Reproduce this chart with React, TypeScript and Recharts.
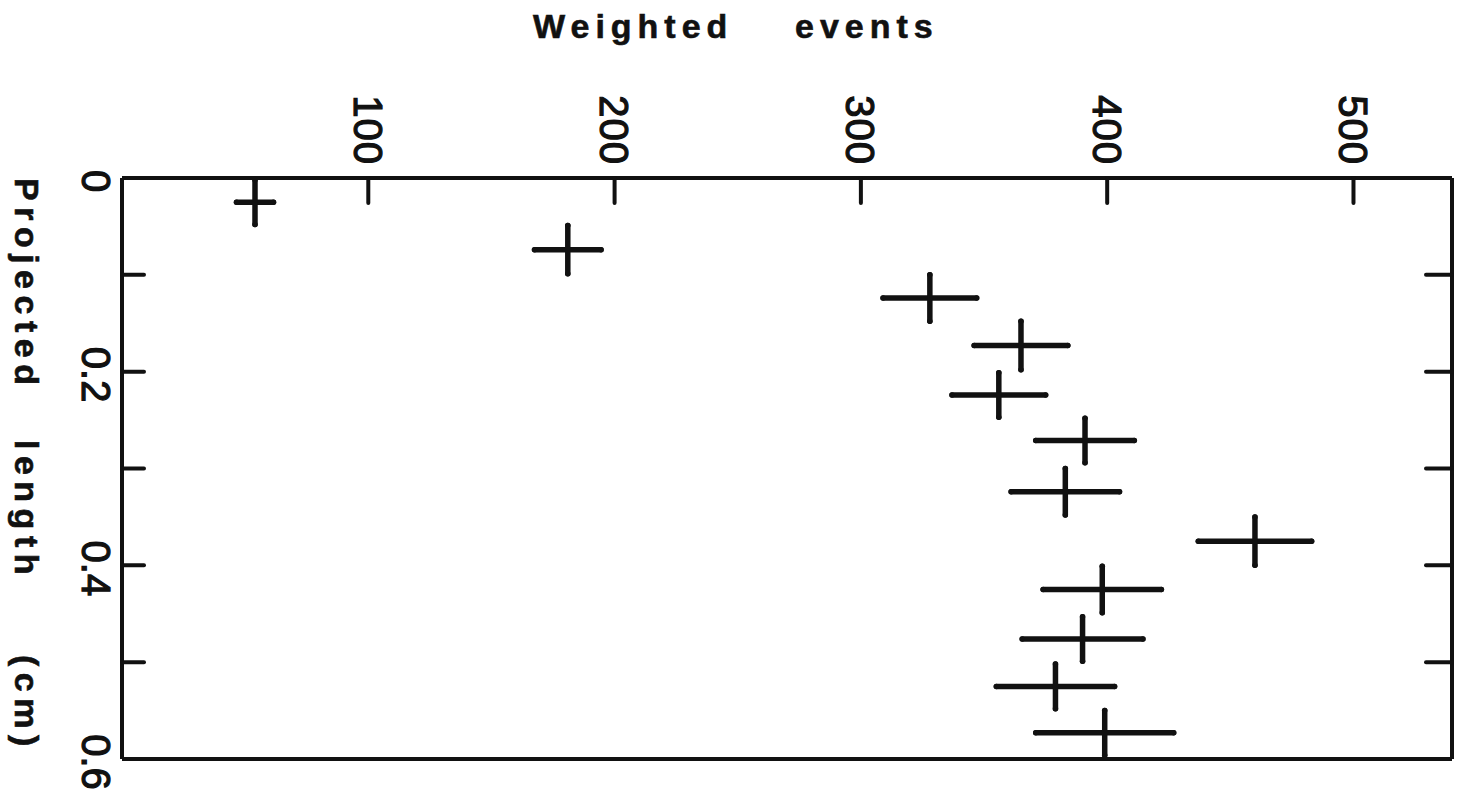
import React from 'react';
import { ScatterChart, Scatter, XAxis, YAxis, ErrorBar } from 'recharts';

// Projected length bin centres (cm)
const lengths = [0.025, 0.074, 0.124, 0.173, 0.224, 0.271, 0.324, 0.375, 0.425, 0.476, 0.525, 0.573];
// Weighted events per bin
const events = [54, 181, 328, 365, 356, 391, 383, 460, 398, 390, 379, 399];
// Statistical errors on weighted events
const eventErrors = [7.5, 13.5, 19, 19, 19, 20, 22, 23, 24, 24.5, 24, 28];
// Half bin width in projected length
const lengthErrors = [0.023, 0.025, 0.024, 0.025, 0.023, 0.023, 0.024, 0.025, 0.024, 0.023, 0.023, 0.023];

const xTicks = [100, 200, 300, 400, 500];
const yTicks = [0, 0.1, 0.2, 0.3, 0.4, 0.5, 0.6];
const yLabelTicks = [0, 0.2, 0.4, 0.6];

const data = lengths.map((l, i) => ({
  length: l,
  events: events[i],
  ex: eventErrors[i],
  ey: lengthErrors[i],
}));

const INK = '#111';
const FONT = '"Liberation Sans", Arial, sans-serif';

const TopTick = (props: any) => {
  const { x, y, payload } = props;
  return (
    <g>
      <line x1={x} y1={y} x2={x} y2={y + 25} stroke={INK} strokeWidth={4} strokeLinecap="round" />
      <text
        transform={`translate(${x},${y - 13}) rotate(90)`}
        textAnchor="end"
        dy="0.36em"
        fontFamily={FONT}
        fontSize={40}
        letterSpacing={1}
        fill={INK}
        stroke={INK}
        strokeWidth={1.2}
      >
        {payload.value}
      </text>
    </g>
  );
};

const BottomTick = (props: any) => {
  const { x, y } = props;
  return <line x1={x} y1={y} x2={x} y2={y - 25} stroke={INK} strokeWidth={4} strokeLinecap="round" />;
};

const LeftTick = (props: any) => {
  const { x, y, payload } = props;
  const v = payload.value;
  const isEnd = Math.abs(v) < 1e-9 || Math.abs(v - 0.6) < 1e-9;
  const showLabel = yLabelTicks.some((t) => Math.abs(t - v) < 1e-9);
  const label = Math.abs(v) < 1e-9 ? '0' : v.toFixed(1);
  return (
    <g>
      {!isEnd && (
        <line x1={x} y1={y} x2={x + 22} y2={y} stroke={INK} strokeWidth={4} strokeLinecap="round" />
      )}
      {showLabel && (
        <text
          transform={`translate(${x - 26},${y + 3}) rotate(90)`}
          textAnchor="middle"
          dy="0.36em"
          fontFamily={FONT}
          fontSize={40}
          fill={INK}
          stroke={INK}
          strokeWidth={1.2}
        >
          {label}
        </text>
      )}
    </g>
  );
};

const RightTick = (props: any) => {
  const { x, y, payload } = props;
  const v = payload.value;
  const isEnd = Math.abs(v) < 1e-9 || Math.abs(v - 0.6) < 1e-9;
  if (isEnd) return <g />;
  return <line x1={x} y1={y} x2={x - 26} y2={y} stroke={INK} strokeWidth={4} strokeLinecap="round" />;
};

const TopTitle = (props: any) => {
  const { viewBox } = props;
  const vx = viewBox ? viewBox.x : 122;
  return (
    <text
      y={38}
      fontFamily={FONT}
      fontWeight="bold"
      fontSize={34}
      letterSpacing={6}
      fill={INK}
      stroke={INK}
      strokeWidth={0.6}
    >
      <tspan x={vx + 411}>Weighted</tspan>
      <tspan x={vx + 673}>events</tspan>
    </text>
  );
};

const LeftTitle = () => {
  return (
    <text
      transform={`translate(15,0) rotate(90)`}
      fontFamily={FONT}
      fontWeight="bold"
      fontSize={34}
      letterSpacing={6.5}
      fill={INK}
      stroke={INK}
      strokeWidth={0.6}
    >
      <tspan x={178} y={0}>Projected</tspan>
      <tspan x={440} y={0}>length</tspan>
      <tspan x={655} y={0}>(cm)</tspan>
    </text>
  );
};

const NoShape = () => <g />;

export default function App() {
  return (
    <div style={{ position: 'absolute', left: 0, top: 0, width: 1460, height: 792, background: '#fff' }}>
      <ScatterChart width={1460} height={792} margin={{ top: 0, right: 0, bottom: 0, left: 0 }}>
        <XAxis
          xAxisId="t"
          type="number"
          dataKey="events"
          orientation="top"
          domain={[0, 540]}
          ticks={xTicks}
          height={178}
          allowDataOverflow
          tickLine={false}
          tickSize={0}
          tickMargin={0}
          axisLine={{ stroke: INK, strokeWidth: 4 }}
          tick={<TopTick />}
          interval={0}
          label={{ content: <TopTitle /> }}
        />
        <XAxis
          xAxisId="b"
          type="number"
          orientation="bottom"
          domain={[0, 540]}
          ticks={xTicks}
          height={33}
          allowDataOverflow
          tickLine={false}
          tickSize={0}
          tickMargin={0}
          axisLine={{ stroke: INK, strokeWidth: 4 }}
          tick={<BottomTick />}
          interval={0}
        />
        <YAxis
          yAxisId="l"
          type="number"
          dataKey="length"
          orientation="left"
          reversed
          domain={[0, 0.6]}
          ticks={yTicks}
          width={122}
          allowDataOverflow
          tickLine={false}
          tickSize={0}
          tickMargin={0}
          axisLine={{ stroke: INK, strokeWidth: 4 }}
          tick={<LeftTick />}
          interval={0}
          label={{ content: <LeftTitle /> }}
        />
        <YAxis
          yAxisId="r"
          type="number"
          orientation="right"
          reversed
          domain={[0, 0.6]}
          ticks={yTicks}
          width={8}
          allowDataOverflow
          tickLine={false}
          tickSize={0}
          tickMargin={0}
          axisLine={{ stroke: INK, strokeWidth: 4 }}
          tick={<RightTick />}
          interval={0}
        />
        <Scatter
          data={data}
          xAxisId="t"
          yAxisId="l"
          shape={<NoShape />}
          isAnimationActive={false}
        >
          <ErrorBar
            dataKey="ex"
            direction="x"
            width={0}
            stroke={INK}
            strokeWidth={5.5}
            strokeLinecap="round"
            isAnimationActive={false}
          />
          <ErrorBar
            dataKey="ey"
            direction="y"
            width={0}
            stroke={INK}
            strokeWidth={5.5}
            strokeLinecap="round"
            isAnimationActive={false}
          />
        </Scatter>
      </ScatterChart>
    </div>
  );
}
